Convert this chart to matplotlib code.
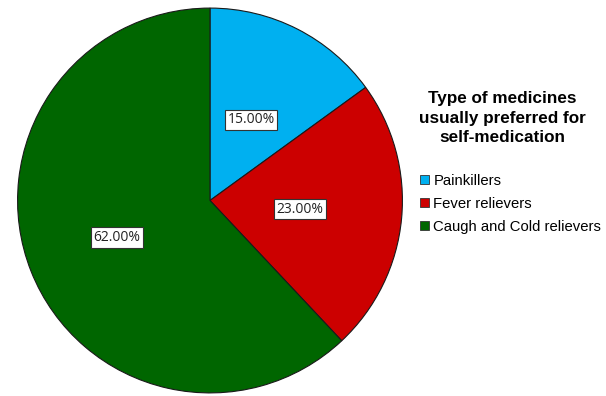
import numpy as np
import matplotlib.pyplot as plt

labels = ['Painkillers', 'Fever relievers', 'Caugh and Cold relievers']
values = [15.0, 23.0, 62.0]
colors = ['#00B0F0', '#CC0000', '#006600']
legend_title = 'Type of medicines\nusually preferred for\nself-medication'

plt.rcParams['font.family'] = ['Liberation Sans', 'DejaVu Sans']

fig = plt.figure(figsize=(6.06, 3.96), dpi=100)

# pie area, centre about (210, 200) px, radius about 193 px
ax = fig.add_axes([17 / 606, 2.5 / 396, 386 / 606, 386 / 396])
wedges, texts, autotexts = ax.pie(
    values, colors=colors, startangle=90, counterclock=False,
    autopct='%.2f%%', pctdistance=0.47,
    wedgeprops=dict(edgecolor='#1a1a1a', linewidth=0.8),
    textprops=dict(fontsize=10, family=['Open Sans', 'DejaVu Sans'], color='#222222'))

# label distances from centre, a little further out for the big slice
label_dist = [0.47, 0.47, 0.52]
for w, t, d in zip(wedges, autotexts, label_dist):
    ang = np.deg2rad((w.theta1 + w.theta2) / 2)
    t.set_position((d * np.cos(ang), d * np.sin(ang)))
    t.set_bbox(dict(boxstyle='square,pad=0.2', facecolor='white', edgecolor='#333333', linewidth=0.8))
ax.set_xlim(-1.003, 1.003)
ax.set_ylim(-1.003, 1.003)
ax.set_aspect('equal')
ax.axis('off')

fig.text(502 / 606, 1 - 118 / 396, legend_title, ha='center', va='center',
         fontsize=12.3, fontweight='bold', linespacing=1.38)

leg = fig.legend(wedges, labels, loc='upper left', bbox_to_anchor=(420 / 606, 1 - 174 / 396),
                 frameon=False, fontsize=10.7, handlelength=0.6, handleheight=0.6,
                 handletextpad=0.3, labelspacing=0.6, borderaxespad=0, borderpad=0)
for h in leg.legend_handles:
    h.set_edgecolor('#333333')
    h.set_linewidth(0.6)

fig.savefig('out.png', dpi=100)
